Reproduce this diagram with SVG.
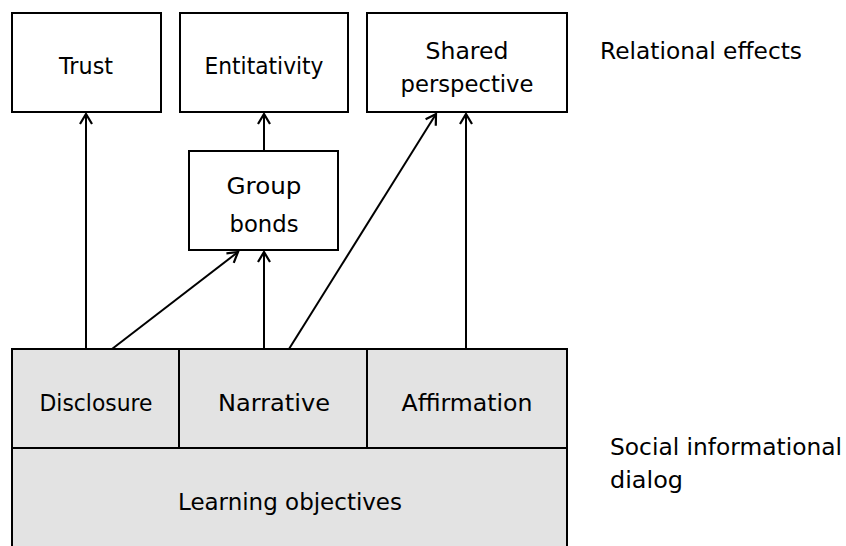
<svg xmlns="http://www.w3.org/2000/svg" width="846" height="546" viewBox="0 0 846 546">
<style>
.box{fill:#fff;stroke:#000;stroke-width:2}
.cell{fill:#e3e3e3;stroke:#000;stroke-width:2}
text{font-family:"DejaVu Sans","Liberation Sans",sans-serif;font-size:22.5px;fill:#000}
.c{text-anchor:middle}
.edge{stroke:#000;stroke-width:2;fill:none;marker-end:url(#arr)}
</style>
<defs>
<marker id="arr" viewBox="-12 -8 14 16" markerWidth="14" markerHeight="16" refX="0" refY="0" orient="auto" markerUnits="userSpaceOnUse">
<path d="M-10,-6 L0,0 L-10,6" fill="none" stroke="#000" stroke-width="2.2"/>
</marker>
</defs>
<g id="trust"><rect class="box" x="12" y="13" width="149" height="99"/><text class="c" x="86" y="74" textLength="54" lengthAdjust="spacingAndGlyphs">Trust</text></g>
<g id="entitativity"><rect class="box" x="180" y="13" width="168" height="99"/><text class="c" x="264" y="74" textLength="119" lengthAdjust="spacingAndGlyphs">Entitativity</text></g>
<g id="shared"><rect class="box" x="367" y="13" width="200" height="99"/><text class="c" x="467" y="59" textLength="83" lengthAdjust="spacingAndGlyphs">Shared</text><text class="c" x="467" y="92" textLength="133" lengthAdjust="spacingAndGlyphs">perspective</text></g>
<g id="relational"><text x="600" y="59" textLength="202" lengthAdjust="spacingAndGlyphs">Relational effects</text></g>
<g id="groupbonds"><rect class="box" x="189" y="151" width="149" height="99"/><text class="c" x="264" y="194" textLength="75" lengthAdjust="spacingAndGlyphs">Group</text><text class="c" x="264" y="232" textLength="69" lengthAdjust="spacingAndGlyphs">bonds</text></g>
<g id="disclosure"><rect class="cell" x="12" y="349" width="167" height="99"/><text class="c" x="96" y="411" textLength="113" lengthAdjust="spacingAndGlyphs">Disclosure</text></g>
<g id="narrative"><rect class="cell" x="179" y="349" width="188" height="99"/><text class="c" x="274" y="411" textLength="112" lengthAdjust="spacingAndGlyphs">Narrative</text></g>
<g id="affirmation"><rect class="cell" x="367" y="349" width="200" height="99"/><text class="c" x="467" y="411" textLength="131" lengthAdjust="spacingAndGlyphs">Affirmation</text></g>
<g id="learning"><rect class="cell" x="12" y="448" width="555" height="110"/><text class="c" x="290" y="510" textLength="224" lengthAdjust="spacingAndGlyphs">Learning objectives</text></g>
<g id="social"><text x="610" y="455" textLength="232" lengthAdjust="spacingAndGlyphs">Social informational</text><text x="610" y="488" textLength="73" lengthAdjust="spacingAndGlyphs">dialog</text></g>
<g id="connectors">
<path class="edge" d="M86,349 L86,114"/>
<path class="edge" d="M112,349 L238,252"/>
<path class="edge" d="M264,349 L264,252"/>
<path class="edge" d="M264,151 L264,114"/>
<path class="edge" d="M289,349 L436,114"/>
<path class="edge" d="M466,349 L466,114"/>
</g>
</svg>
